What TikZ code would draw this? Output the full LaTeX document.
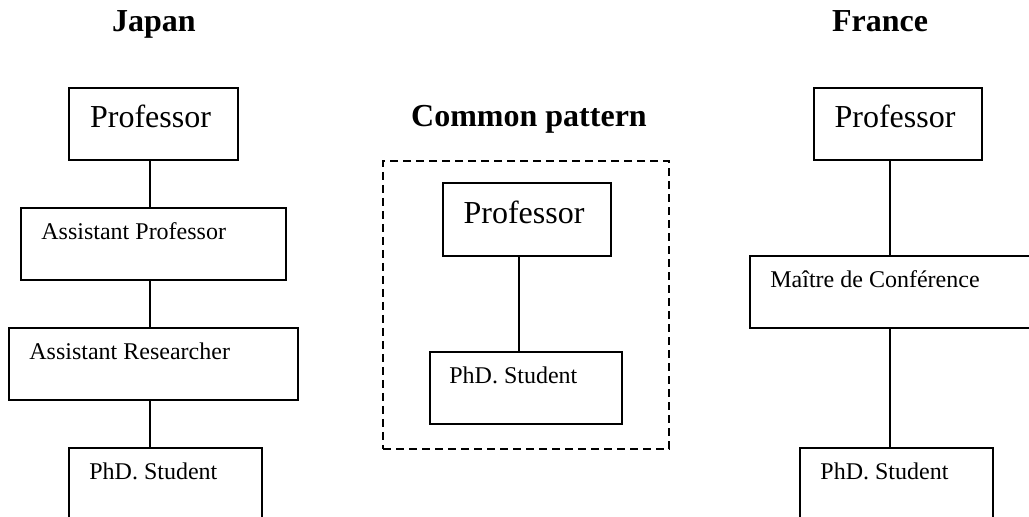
\documentclass[tikz,border=0pt]{standalone}
\usepackage{fontspec}
\setmainfont{Liberation Serif}
\usetikzlibrary{fit,positioning}
\tikzset{
    rolebox/.style={draw, rectangle, line width=1pt, inner sep=0pt},
    patternbox/.style={draw, rectangle, line width=1pt, inner sep=0pt,
            dash pattern=on 4pt off 2.5pt},
    link/.style={line width=1pt},
    heading/.style={anchor=base, inner sep=0pt,
            font=\bfseries\fontsize{16}{19}\selectfont},
    proftext/.style={anchor=base, inner sep=0pt,
            font=\fontsize{16}{19}\selectfont},
    roletext/.style={anchor=base west, inner sep=0pt,
            font=\fontsize{12}{14}\selectfont},
}
\begin{document}
\begin{tikzpicture}[x=0.5pt,y=-0.5pt]
\clip (0,0) rectangle (1029,517);
% Japan
\node[heading] (japan) at (154,32) {Japan};
\node[rolebox, fit={(69,88) (238,160)}] (jprof) {};
\node[proftext] at ([shift={(-3,41)}]jprof.north) {Professor};
\node[rolebox, fit={(21,208) (286,280)}] (jassp) {};
\node[roletext] at ([shift={(21,33)}]jassp.north west) {Assistant Professor};
\node[rolebox, fit={(9,328) (298,400)}] (jassr) {};
\node[roletext] at ([shift={(21,33)}]jassr.north west) {Assistant Researcher};
\node[rolebox, fit={(69,448) (262,540)}] (jphd) {};
\node[roletext] at ([shift={(21,33)}]jphd.north west) {PhD. Student};
\draw[link] ([xshift=-2]jprof.south) -- ([xshift=-2]jprof.south |- jassp.north);
\draw[link] ([xshift=-2]jassp.south) -- ([xshift=-2]jassp.south |- jassr.north);
\draw[link] ([xshift=-2]jassr.south) -- ([xshift=-2]jassr.south |- jphd.north);
% Common pattern
\node[heading] (common) at (529,127) {Common pattern};
\node[patternbox, fit={(383,161) (669,449)}] (pattern) {};
\node[rolebox, fit={(443,183) (611,256)}] (cprof) {};
\node[proftext] at ([shift={(-3,42)}]cprof.north) {Professor};
\node[rolebox, fit={(430,352) (622,424)}] (cphd) {};
\node[roletext] at ([shift={(20,33)}]cphd.north west) {PhD. Student};
\draw[link] ([xshift=-4]cprof.south) -- ([xshift=-4]cprof.south |- cphd.north);
% France
\node[heading] (france) at (880,32) {France};
\node[rolebox, fit={(814,88) (982,160)}] (fprof) {};
\node[proftext] at ([shift={(-3,41)}]fprof.north) {Professor};
\node[rolebox, fit={(750,256) (1040,328)}] (fmc) {};
\node[roletext] at ([shift={(21,33)}]fmc.north west) {Maître de Conférence};
\node[rolebox, fit={(800,448) (993,540)}] (fphd) {};
\node[roletext] at ([shift={(21,33)}]fphd.north west) {PhD. Student};
\draw[link] ([xshift=-4]fprof.south) -- ([xshift=-4]fprof.south |- fmc.north);
\draw[link] ([xshift=-4]fprof.south |- fmc.south) -- ([xshift=-4]fprof.south |- fphd.north);
\end{tikzpicture}
\end{document}
